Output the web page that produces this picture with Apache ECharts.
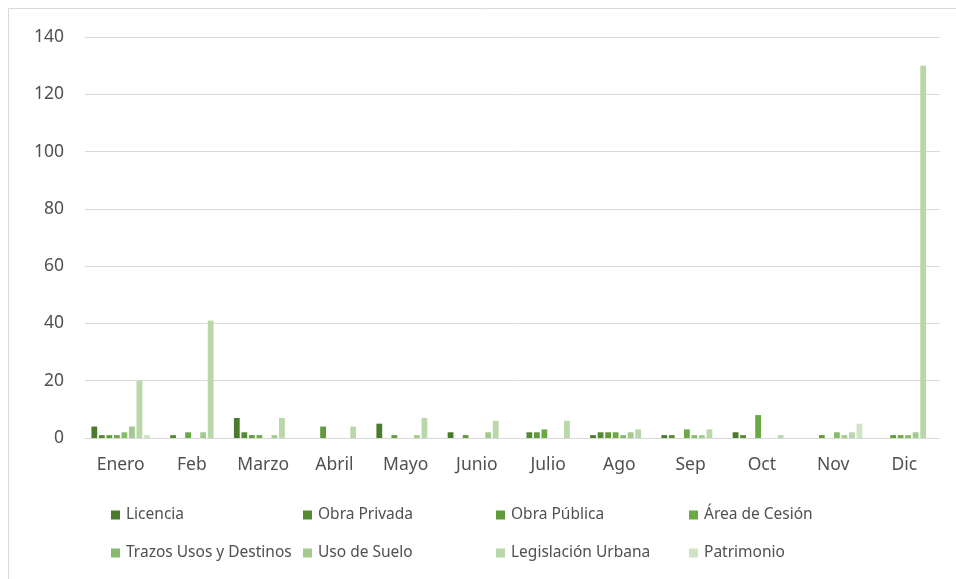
<!DOCTYPE html>
<html>
<head>
<meta charset="utf-8">
<script src="https://cdn.jsdelivr.net/npm/echarts@6/dist/echarts.min.js"></script>
<style>
html,body{margin:0;padding:0;background:#fff;}
#c{width:956px;height:579px;}
</style>
</head>
<body>
<div id="c"></div>
<script>
var categories = ['Enero','Feb','Marzo','Abril','Mayo','Junio','Julio','Ago','Sep','Oct','Nov','Dic'];
var seriesNames = ['Licencia','Obra Privada','Obra Pública','Área de Cesión','Trazos Usos y Destinos','Uso de Suelo','Legislación Urbana','Patrimonio'];
var licencia    = [4,0,7,0,5,2,0,1,1,2,0,0];
var obraPrivada = [1,1,2,0,0,0,2,2,1,1,0,0];
var obraPublica = [1,0,1,4,1,1,2,2,0,0,1,1];
var areaCesion  = [1,2,1,0,0,0,3,2,3,8,0,1];
var trazos      = [2,0,0,0,0,0,0,1,1,0,2,1];
var usoSuelo    = [4,2,1,0,1,2,0,2,1,0,1,2];
var legislacion = [20,41,7,4,7,6,6,3,3,1,2,130];
var patrimonio  = [1,0,0,0,0,0,0,0,0,0,5,0];
var yTicks = [0,20,40,60,80,100,120,140];

var values = [licencia,obraPrivada,obraPublica,areaCesion,trazos,usoSuelo,legislacion,patrimonio];
var colors = ['#4a7a2c','#548a34','#5f9a3b','#6aa943','#86bb69','#a2ca8c','#b9d7a8','#d0e4c5'];

var legendLefts = [111,303,496,689];
var legendTops = [506,544];
var legends = seriesNames.map(function(n,i){
  return {
    data:[n], left: legendLefts[i%4], top: legendTops[Math.floor(i/4)],
    orient:'horizontal', itemWidth:9, itemHeight:9, padding:0,
    icon:'rect',
    textStyle:{color:'#505050', fontSize:15.5, fontFamily:'Noto Sans', lineHeight:18, padding:[0,0,0,1]}
  };
});

var chart = echarts.init(document.getElementById('c'));
chart.setOption({
  animation:false,
  backgroundColor:'#fff',
  graphic:[{type:'rect', shape:{x:8.5,y:8.5,width:1000,height:700}, style:{fill:'none', stroke:'#d9d9d9', lineWidth:1}, silent:true}],
  legend: legends,
  grid:{left:85, right:16, top:37, bottom:141, containLabel:false},
  xAxis:{
    type:'category', data:categories,
    axisLine:{lineStyle:{color:'#d9d9d9', width:1}},
    axisTick:{show:false},
    axisLabel:{color:'#505050', fontSize:17.5, fontFamily:'Noto Sans', margin:18}
  },
  yAxis:{
    type:'value', min:yTicks[0], max:yTicks[yTicks.length-1], interval:20,
    axisLine:{show:false}, axisTick:{show:false},
    splitLine:{lineStyle:{color:'#d9d9d9', width:1}},
    axisLabel:{color:'#505050', fontSize:17.5, fontFamily:'Noto Sans', margin:21}
  },
  series: seriesNames.map(function(n,i){
    return {
      name:n, type:'bar', data:values[i],
      barGap:'30%', barCategoryGap:'18%',
      itemStyle:{color:colors[i]}
    };
  })
});
</script>
</body>
</html>
